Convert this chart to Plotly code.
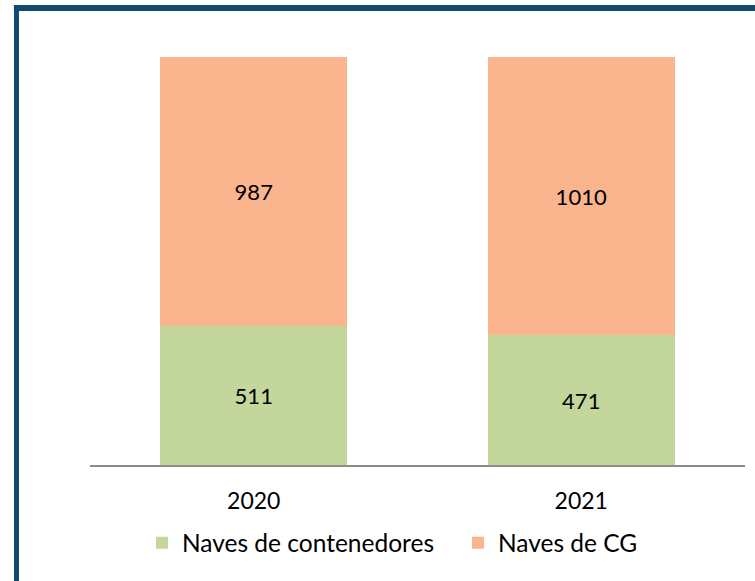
import plotly.graph_objects as go

years = ["2020", "2021"]
contenedores = [511, 471]
cg = [987, 1010]
series_names = ["Naves de contenedores", "Naves de CG"]
colors = ["#C3D69B", "#FAB48E"]

totals = [a + b for a, b in zip(contenedores, cg)]
share_cont = [a / t for a, t in zip(contenedores, totals)]
share_cg = [b / t for b, t in zip(cg, totals)]

font_family = "Lato, 'Open Sans', sans-serif"

fig = go.Figure()
for name, share, raw, col, lg in [
    (series_names[0], share_cont, contenedores, colors[0], "legend"),
    (series_names[1], share_cg, cg, colors[1], "legend2"),
]:
    fig.add_trace(go.Bar(
        x=years, y=share, name=name, customdata=raw, legend=lg,
        marker=dict(color=col, line=dict(width=0)),
        texttemplate="%{customdata}", textposition="inside",
        insidetextanchor="middle",
        textfont=dict(size=22, color="black", family=font_family),
        hoverinfo="skip",
    ))

L, T, PW, PH = 90, 57, 655, 408
leg_common = dict(orientation="h", xanchor="left", y=-0.191, yanchor="middle",
                  font=dict(size=24.5, color="black"), itemwidth=30,
                  bgcolor="rgba(0,0,0,0)")
fig.update_layout(
    barmode="stack",
    bargap=0.43,
    width=755, height=581,
    margin=dict(l=L, r=10, t=T, b=116),
    paper_bgcolor="white", plot_bgcolor="white",
    font=dict(family=font_family, size=22, color="black"),
    showlegend=True,
    legend=dict(x=(142 - L) / PW, **leg_common),
    legend2=dict(x=(458 - L) / PW, **leg_common),
    xaxis=dict(showline=True, linecolor="#8C8C8C", linewidth=2, ticks="",
               tickfont=dict(size=23), showgrid=False, ticklabelstandoff=14),
    yaxis=dict(range=[0, 1], visible=False, showgrid=False),
)

border = "#134A72"
xl = (16.5 - L) / PW
yt = (PH + T - 8) / PH
fig.add_shape(type="line", xref="paper", yref="paper", x0=xl - 0.004, x1=1.2, y0=yt, y1=yt,
              line=dict(color=border, width=6), layer="below")
fig.add_shape(type="line", xref="paper", yref="paper", x0=xl, x1=xl, y0=-0.5, y1=yt,
              line=dict(color=border, width=5), layer="below")

fig.write_html(
    "out.html",
    config={"displayModeBar": False},
    post_script="document.body.style.margin='0';document.body.style.overflow='hidden';",
)
